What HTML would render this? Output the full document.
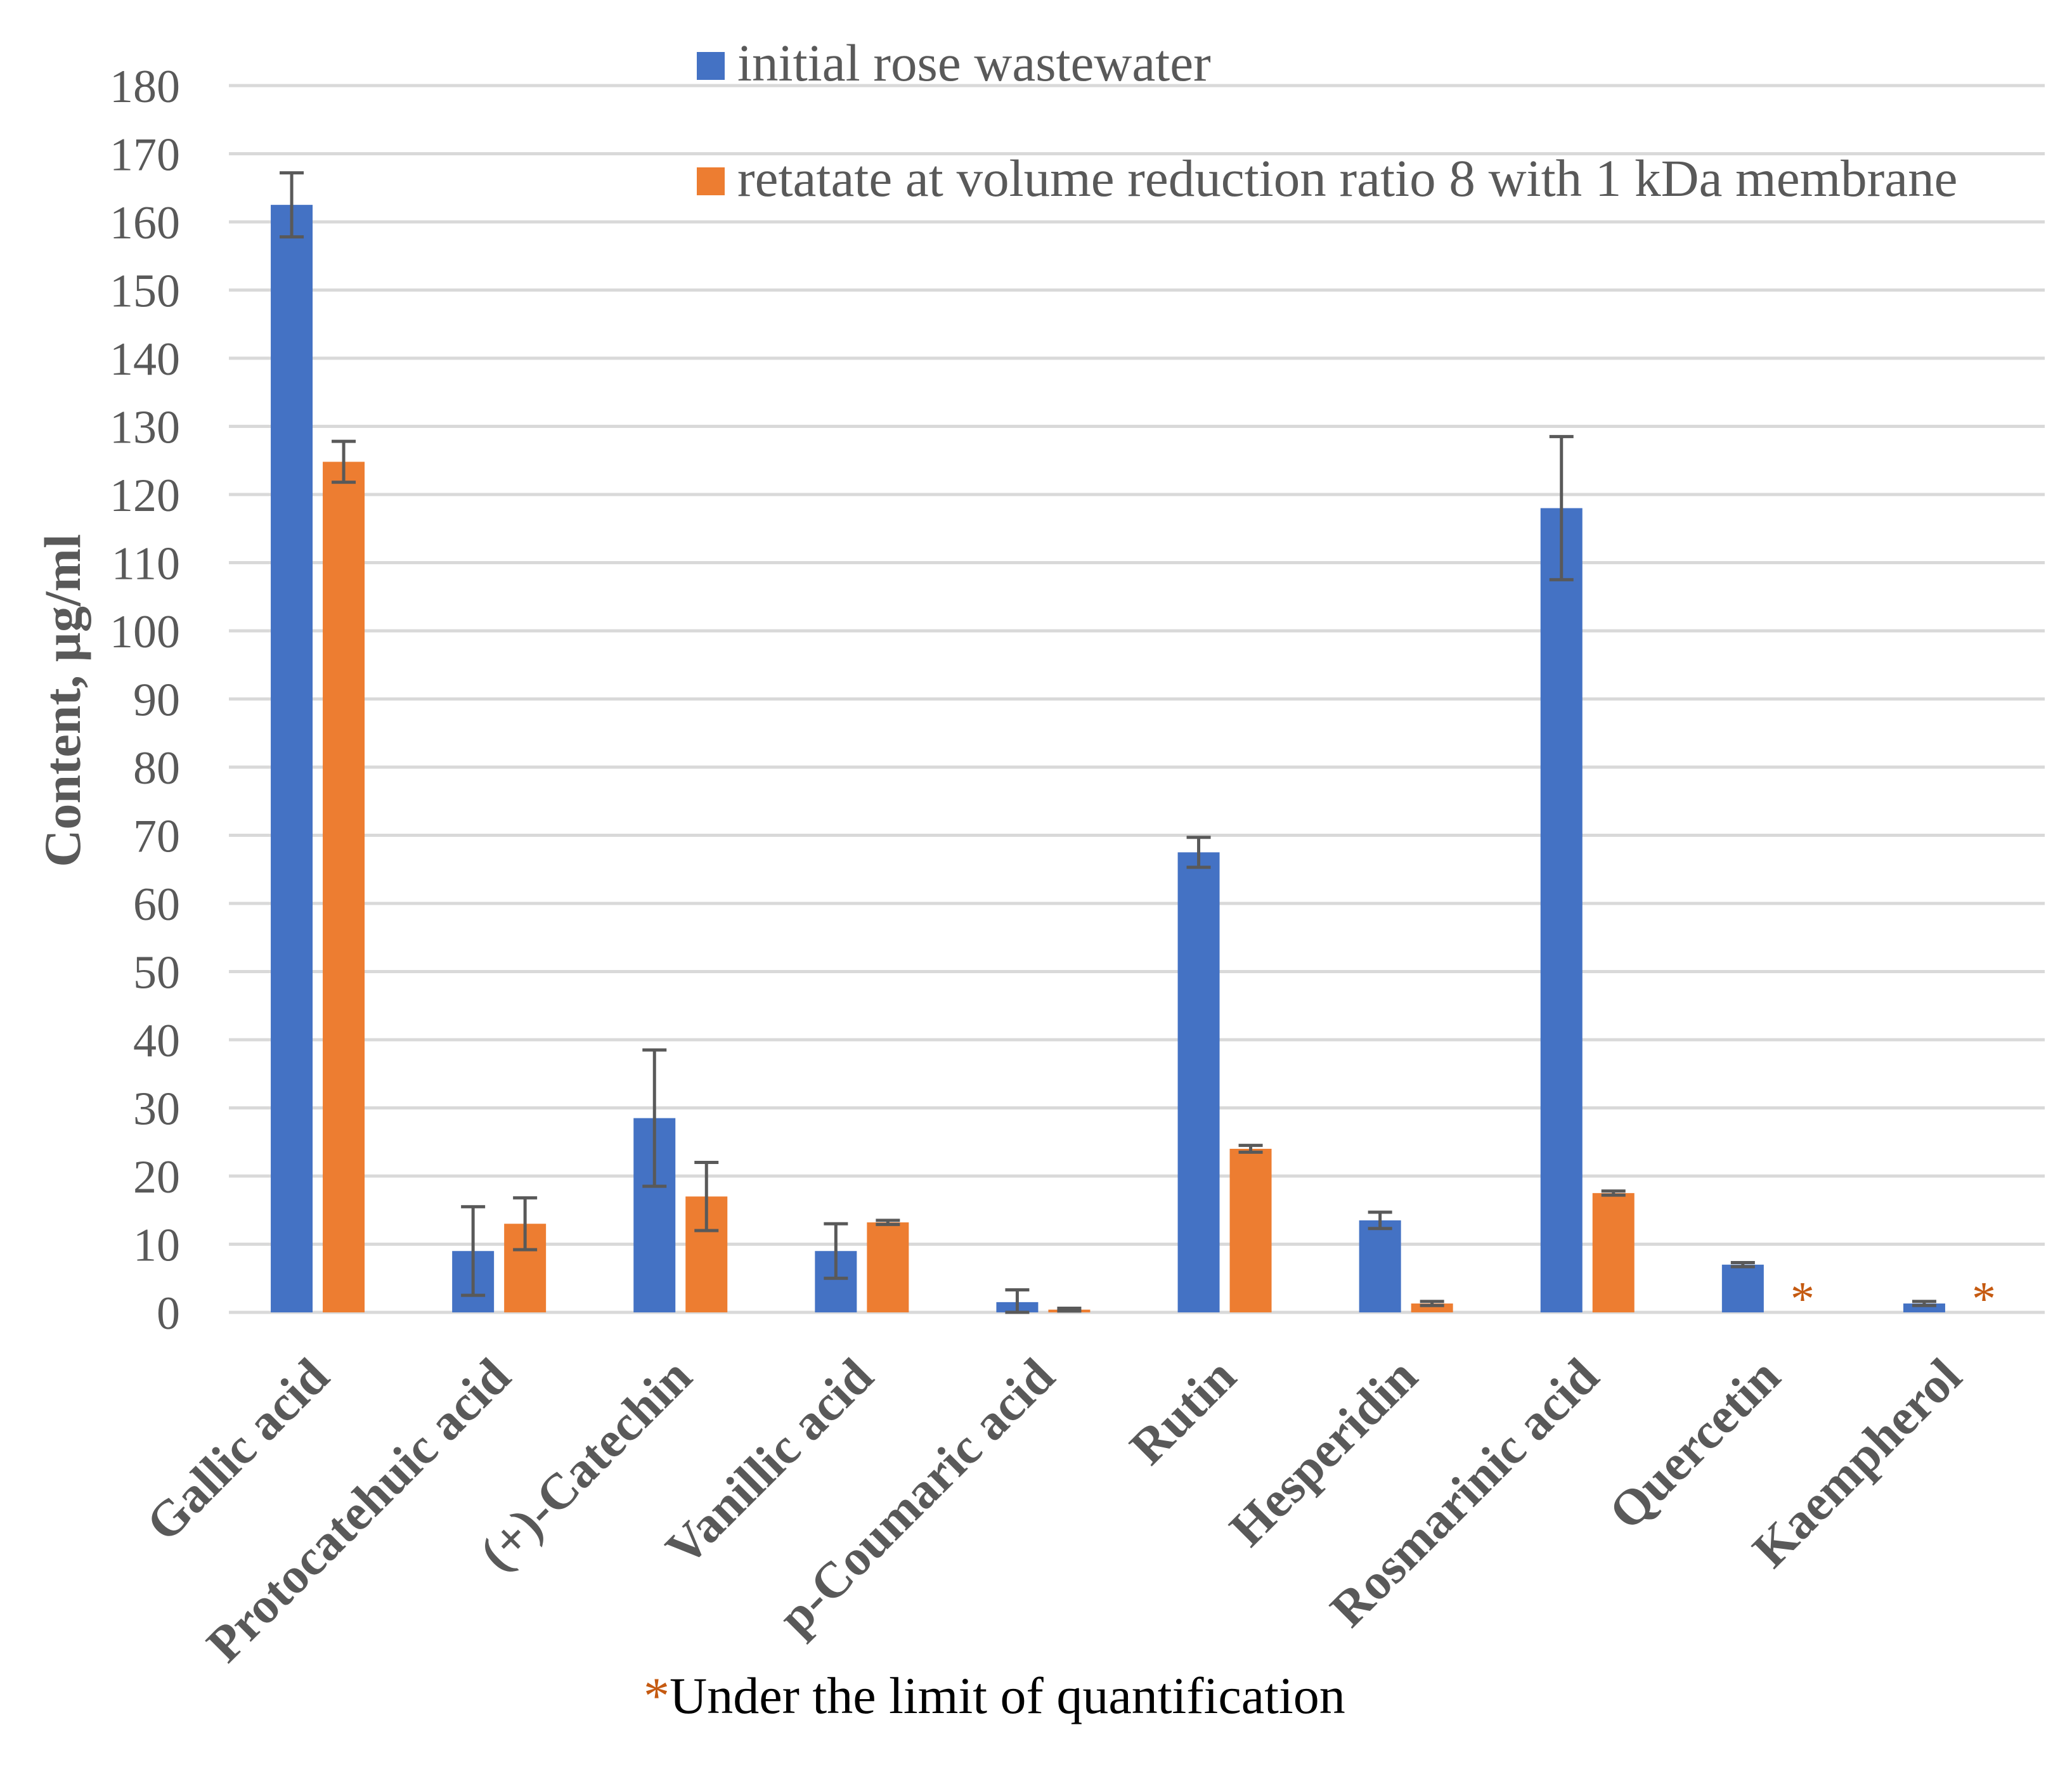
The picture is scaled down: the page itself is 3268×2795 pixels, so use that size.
<!DOCTYPE html>
<html><head><meta charset="utf-8"><style>
html,body{margin:0;padding:0;background:#fff}
svg{display:block}
</style></head><body>
<svg id="chart" width="3268" height="2795" viewBox="0 0 3268 2795" xmlns="http://www.w3.org/2000/svg">
<rect width="3268" height="2795" fill="#fff"/>
<g id="grid"></g>
<g id="yticks"></g>
<g id="bars"></g>
<g id="xlabels"></g>
<text transform="translate(126,1105) rotate(-90)" text-anchor="middle" font-family="Liberation Serif, serif" font-weight="bold" font-size="82" fill="#595959">Content, µg/ml</text>
<g>
<rect x="1099" y="82" width="44" height="44" fill="#4472C4"/>
<text x="1163" y="127" font-family="Liberation Serif, serif" font-size="83" fill="#595959">initial rose wastewater</text>
<rect x="1099" y="264" width="44" height="44" fill="#ED7D31"/>
<text x="1163" y="309" font-family="Liberation Serif, serif" font-size="83" fill="#595959">retatate at volume reduction ratio 8 with 1 kDa membrane</text>
</g>
<text x="1015" y="2702" font-family="Liberation Serif, serif" font-size="82" fill="#000"><tspan fill="#C55A11">*</tspan>Under the limit of quantification</text>
</svg>
<script>
const categories = ["Gallic acid","Protocatehuic acid","(+)-Catechin","Vanillic acid","p-Coumaric acid","Rutin","Hesperidin","Rosmarinic acid","Quercetin","Kaempherol"];
const initialValues = [162.5, 9, 28.5, 9, 1.5, 67.5, 13.5, 118, 7, 1.3];
const initialErrors = [4.7, 6.5, 10, 4, 1.8, 2.2, 1.2, 10.5, 0.3, 0.3];
const retentateValues = [124.8, 13, 17, 13.2, 0.4, 24, 1.3, 17.5, null, null];
const retentateErrors = [3, 3.8, 5, 0.3, 0.2, 0.5, 0.3, 0.3, 0, 0];
const yTicks = [0,10,20,30,40,50,60,70,80,90,100,110,120,130,140,150,160,170,180];

const NS = "http://www.w3.org/2000/svg";
const X0 = 358, X1 = 3219, Y0 = 2070, YMAXPX = 135, YMAX = 180;
const band = (X1 - X0) / categories.length;
function yScale(v){ return Y0 - (v / YMAX) * (Y0 - YMAXPX); }
function xCenter(i){ return X0 + band * (i + 0.5); }
function mk(tag, attrs, parent){
  const e = document.createElementNS(NS, tag);
  for (const k in attrs) e.setAttribute(k, attrs[k]);
  parent.appendChild(e);
  return e;
}
const grid = document.getElementById('grid');
const yt = document.getElementById('yticks');
yTicks.forEach(t => {
  const l = mk('line', {x1: 361, x2: 3225, y1: yScale(t), y2: yScale(t), stroke: '#d9d9d9', 'stroke-width': 5}, grid);
  
  
  const tx = mk('text', {x: 284, y: yScale(t) + 26, 'text-anchor': 'end', 'font-family': 'Liberation Serif, serif', 'font-size': 74, fill: '#595959'}, yt);
  tx.textContent = t;
  
  
});
const bars = document.getElementById('bars');
const xl = document.getElementById('xlabels');
const BW = 66, OFF = 41;
function errBar(cx, v, e, name){
  const g = mk('g', {}, bars);
  
  
  const a = {stroke: '#595959', 'stroke-width': 5};
  mk('line', Object.assign({x1: cx, x2: cx, y1: yScale(v + e), y2: yScale(Math.max(v - e, 0))}, a), g);
  mk('line', Object.assign({x1: cx - 19, x2: cx + 19, y1: yScale(v + e), y2: yScale(v + e)}, a), g);
  mk('line', Object.assign({x1: cx - 19, x2: cx + 19, y1: yScale(Math.max(v - e, 0)), y2: yScale(Math.max(v - e, 0))}, a), g);
}
categories.forEach((c, i) => {
  const cx = xCenter(i);
  const slug = c.toLowerCase().replace(/[^a-z0-9]+/g, '-').replace(/^-|-$/g, '');
  const bx = cx - OFF;
  const r1 = mk('rect', {x: bx - BW / 2, y: yScale(initialValues[i]), width: BW, height: Y0 - yScale(initialValues[i]), fill: '#4472C4'}, bars);
  
  
  errBar(bx, initialValues[i], initialErrors[i], 'error-bar-initial-' + slug);
  const ox = cx + OFF;
  if (retentateValues[i] !== null) {
    const r2 = mk('rect', {x: ox - BW / 2, y: yScale(retentateValues[i]), width: BW, height: Y0 - yScale(retentateValues[i]), fill: '#ED7D31'}, bars);
    
    
    errBar(ox, retentateValues[i], retentateErrors[i], 'error-bar-retentate-' + slug);
  } else {
    const s = mk('text', {x: ox + 12, y: Y0 + 4, 'text-anchor': 'middle', 'font-family': 'Liberation Serif, serif', 'font-size': 76, fill: '#C55A11'}, bars);
    s.textContent = '*';
    
    
  }
  const t = mk('text', {transform: 'translate(' + (cx + 22) + ',2176) rotate(-45)', 'text-anchor': 'end', 'font-family': 'Liberation Serif, serif', 'font-weight': 'bold', 'font-size': 80, fill: '#595959'}, xl);
  t.textContent = c;
  
  
});
</script>
</body></html>
